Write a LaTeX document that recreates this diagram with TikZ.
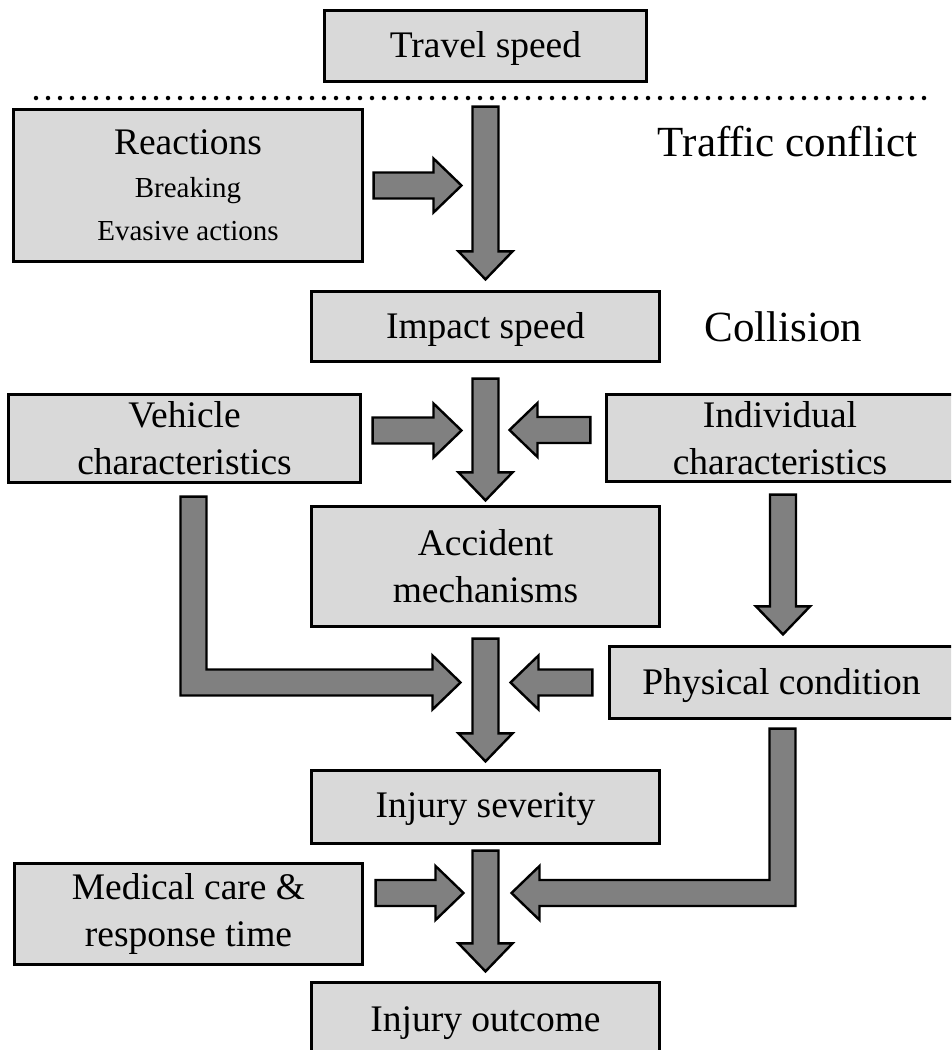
\documentclass[tikz,border=0pt]{standalone}
\usepackage{fontspec}
\setmainfont{Liberation Serif}
\usepackage{tikz}
\usetikzlibrary{calc, positioning}
\definecolor{boxgray}{gray}{0.85}
\definecolor{arrowgray}{gray}{0.5}
\tikzset{
    boxnode/.style = {draw, rectangle, fill=boxgray, line width=2.8pt, inner sep=0em, outer sep=0em,
      node distance=0em, align=center, font=\fontsize{37.5}{47}\selectfont},
    onelinenode/.style = {boxnode, text depth=3pt},
    textnode/.style = {draw=none, fill=none, rectangle, inner sep=0em, node distance=0em,
      font=\fontsize{43}{50}\selectfont},
    fatarrow/.style = {draw=black, fill=arrowgray, line width=2.4pt, line join=miter,
      to path={($(\tikztostart)!13pt!90:(\tikztotarget)$)
        -- ($(\tikztotarget)!28pt!(\tikztostart)!13pt!-90:(\tikztostart)$)
        -- ($(\tikztotarget)!28pt!(\tikztostart)!27pt!-90:(\tikztostart)$)
        -- (\tikztotarget)
        -- ($(\tikztotarget)!28pt!(\tikztostart)!27pt!90:(\tikztostart)$)
        -- ($(\tikztotarget)!28pt!(\tikztostart)!13pt!90:(\tikztostart)$)
        -- ($(\tikztostart)!13pt!-90:(\tikztotarget)$) -- cycle}},
    bentarrow/.style = {draw=black, fill=arrowgray, line width=2.4pt, line join=miter},
    dotline/.style = {line width=4.5pt, line cap=round, dash pattern=on 0pt off 12pt}
}

\begin{document}
\begin{tikzpicture}[x=1pt, y=1pt]
    \useasboundingbox (0,0) rectangle (951,-1050);
    \clip (0,0) rectangle (951,-1050);

    % central column
    \node [onelinenode, name=travel, minimum width=322.2, minimum height=71.2] at (485.5,-46) {Travel speed};
    \node [onelinenode, name=impact, below of=travel, yshift=-280.5, minimum width=348.2, minimum height=70.2] {Impact speed};
    \node [boxnode, name=accident, below of=impact, yshift=-240, minimum width=348.2, minimum height=120.2] {Accident\\mechanisms};
    \node [onelinenode, name=severity, below of=accident, yshift=-240.5, minimum width=348.2, minimum height=73.2] {Injury severity};
    \node [onelinenode, name=outcome, below of=severity, yshift=-214, minimum width=348.2, minimum height=77.2] {Injury outcome};

    % side boxes
    \node [boxnode, name=reac, left of=travel, xshift=-297.5, yshift=-139.5, minimum width=349.2, minimum height=152.2,
      font=\fontsize{29}{43}\selectfont] {{\fontsize{37.5}{44}\selectfont Reactions}\\Breaking\\Evasive actions};
    \node [boxnode, name=vehicle, left of=impact, xshift=-301, yshift=-112, minimum width=352.2, minimum height=88.2] {Vehicle\\characteristics};
    \node [boxnode, name=indiv, right of=impact, xshift=294.5, yshift=-111.5, minimum width=347.2, minimum height=87.2] {Individual\\characteristics};
    \node [onelinenode, name=physical, right of=accident, xshift=296, yshift=-116, minimum width=344.2, minimum height=72.2] {Physical condition};
    \node [boxnode, name=medical, left of=severity, xshift=-297, yshift=-107, minimum width=348.2, minimum height=101.2] {Medical care \&\\response time};

    % phase labels
    \node [textnode, name=conflict, right of=travel, xshift=302, yshift=-96] {Traffic conflict};
    \node [textnode, name=collision, right of=impact, xshift=298] {Collision};
    \draw [dotline] (36,-98) -- (925,-98);

    % arrow ends
    \coordinate (t1) at ($(travel.south)+(0,-25)$);
    \coordinate (t2) at ($(impact.north)+(0,12)$);
    \coordinate (r1) at ($(reac.east)+(11,0)$);
    \coordinate (r2) at ($(reac.east -| impact.north)+(-24,0)$);
    \coordinate (i1) at ($(impact.south)+(0,-17)$);
    \coordinate (i2) at ($(accident.north)+(0,6)$);
    \coordinate (ve1) at ($(vehicle.east)+(12,8)$);
    \coordinate (ve2) at ($(vehicle.east -| impact.south)+(-24,8)$);
    \coordinate (in1) at ($(indiv.west)+(-16,8)$);
    \coordinate (in2) at ($(indiv.west -| impact.south)+(24,8)$);
    \coordinate (d1) at ($(indiv.south)+(3,-13)$);
    \coordinate (d2) at ($(d1 |- physical.north)+(0,12)$);
    \coordinate (a1) at ($(accident.south)+(0,-12)$);
    \coordinate (a2) at ($(severity.north)+(0,9)$);
    \coordinate (v1) at ($(vehicle.south)+(9,-14)$);
    \coordinate (v2) at ($(physical.west -| accident.south)+(-25,0)$);
    \coordinate (ph1) at ($(physical.west)+(-17,0)$);
    \coordinate (ph2) at ($(physical.west -| accident.south)+(25,0)$);
    \coordinate (s1) at ($(severity.south)+(0,-7)$);
    \coordinate (s2) at ($(outcome.north)+(0,11)$);
    \coordinate (m1) at ($(medical.east)+(13,21)$);
    \coordinate (m2) at ($(medical.east -| severity.south)+(-22,21)$);
    \coordinate (p1) at ($(physical.south)+(1,-10)$);
    \coordinate (p2) at ($(medical.east -| severity.south)+(26,21)$);

    \draw [fatarrow] (t1) to (t2);
    \draw [fatarrow] (r1) to (r2);
    \draw [fatarrow] (i1) to (i2);
    \draw [fatarrow] (ve1) to (ve2);
    \draw [fatarrow] (in1) to (in2);
    \draw [fatarrow] (d1) to (d2);
    \draw [fatarrow] (a1) to (a2);
    \draw [fatarrow] (ph1) to (ph2);
    \draw [fatarrow] (s1) to (s2);
    \draw [fatarrow] (m1) to (m2);

    % bent arrows
    \draw [bentarrow] ($(v1)+(-13,0)$) -- ($(v1 |- v2)+(-13,-13)$) -- ($(v2)+(-28,-13)$) -- ($(v2)+(-28,-27)$)
      -- (v2) -- ($(v2)+(-28,27)$) -- ($(v2)+(-28,13)$) -- ($(v1 |- v2)+(13,13)$) -- ($(v1)+(13,0)$) -- cycle;
    \draw [bentarrow] ($(p1)+(13,0)$) -- ($(p1 |- p2)+(13,-13)$) -- ($(p2)+(28,-13)$) -- ($(p2)+(28,-27)$)
      -- (p2) -- ($(p2)+(28,27)$) -- ($(p2)+(28,13)$) -- ($(p1 |- p2)+(-13,13)$) -- ($(p1)+(-13,0)$) -- cycle;
\end{tikzpicture}
\end{document}
